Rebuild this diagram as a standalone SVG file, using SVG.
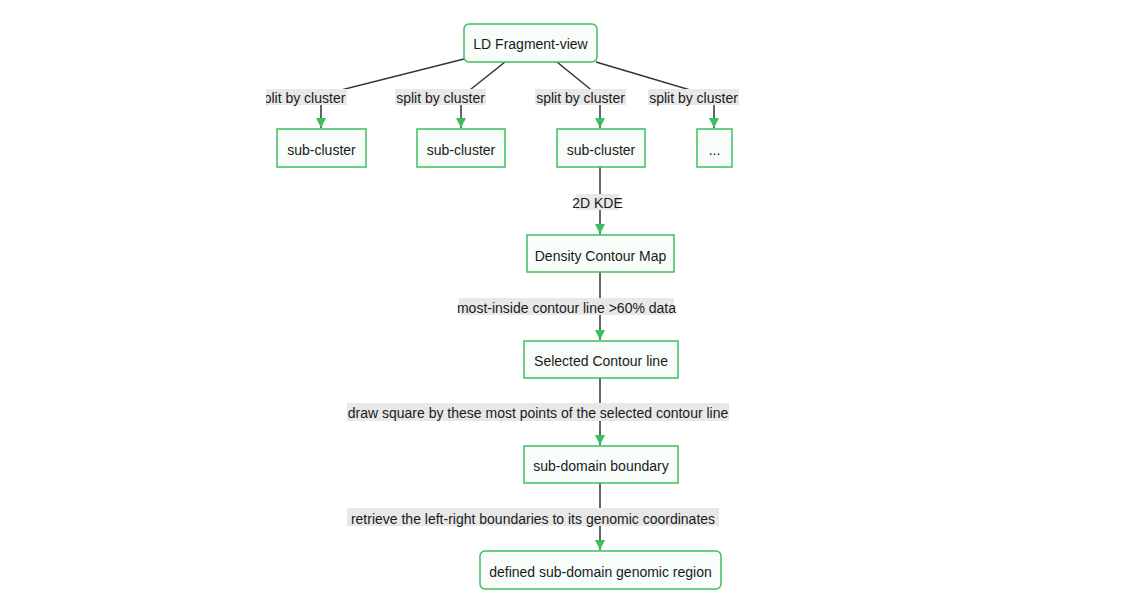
<svg xmlns="http://www.w3.org/2000/svg" width="1125" height="608" viewBox="0 0 1125 608">
<style>
.node rect{fill:#f8fdf9;stroke:#3cbf5e;stroke-width:1.5}
text{font-family:"Liberation Sans",Arial,sans-serif;font-size:14px;fill:#1a1a1a;text-anchor:middle;dominant-baseline:central}
.edge{fill:none;stroke:#333;stroke-width:1.5}
.lbl rect{fill:#e8e8e8;stroke:none}
</style>
<defs>
<marker id="arr" viewBox="0 0 10 10" refX="10" refY="5" markerWidth="10" markerHeight="10" markerUnits="userSpaceOnUse" orient="auto">
<path d="M0,0 L10,5 L0,10 z" fill="#3cbf5e"/>
</marker>
<clipPath id="clip1"><rect x="266" y="85" width="90" height="24"/></clipPath>
</defs>
<rect width="1125" height="608" fill="#fff"/>
<g id="edges">
<polyline class="edge" points="464,59 321,95 321,128" marker-end="url(#arr)"/>
<polyline class="edge" points="505,62 461,97 461,128" marker-end="url(#arr)"/>
<polyline class="edge" points="557,62 600,97 600,128" marker-end="url(#arr)"/>
<polyline class="edge" points="596,62 714,97 714,128" marker-end="url(#arr)"/>
<line class="edge" x1="600" y1="167" x2="600" y2="234" marker-end="url(#arr)"/>
<line class="edge" x1="600" y1="272" x2="600" y2="340" marker-end="url(#arr)"/>
<line class="edge" x1="600" y1="378" x2="600" y2="445" marker-end="url(#arr)"/>
<line class="edge" x1="600" y1="483" x2="600" y2="550" marker-end="url(#arr)"/>
</g>
<g id="labels">
<g class="lbl"><rect x="266" y="89" width="81" height="16"/><text x="301" y="98" clip-path="url(#clip1)">split by cluster</text></g>
<g class="lbl"><rect x="395" y="89" width="91" height="16"/><text x="440.5" y="98">split by cluster</text></g>
<g class="lbl"><rect x="535" y="89" width="91" height="16"/><text x="580.5" y="98">split by cluster</text></g>
<g class="lbl"><rect x="648" y="89" width="91" height="16"/><text x="693.5" y="98">split by cluster</text></g>
<g class="lbl"><rect x="576" y="194" width="43" height="16"/><text x="597.5" y="203">2D KDE</text></g>
<g class="lbl"><rect x="459" y="298" width="215" height="17"/><text x="566.5" y="308">most-inside contour line &gt;60% data</text></g>
<g class="lbl"><rect x="347" y="403" width="382" height="18"/><text x="538" y="413">draw square by these most points of the selected contour line</text></g>
<g class="lbl"><rect x="347" y="508" width="372" height="18"/><text x="533" y="519">retrieve the left-right boundaries to its genomic coordinates</text></g>
</g>
<g id="ld" class="node"><rect x="464" y="24" width="133" height="38" rx="5"/><text x="530.5" y="44">LD Fragment-view</text></g>
<g id="sc1" class="node"><rect x="277" y="129" width="89" height="38"/><text x="321.5" y="150">sub-cluster</text></g>
<g id="sc2" class="node"><rect x="417" y="129" width="88" height="38"/><text x="461" y="150">sub-cluster</text></g>
<g id="sc3" class="node"><rect x="557" y="129" width="88" height="38"/><text x="601" y="150">sub-cluster</text></g>
<g id="sc4" class="node"><rect x="697" y="129" width="35" height="38"/><text x="714.5" y="150">...</text></g>
<g id="dcm" class="node"><rect x="527" y="235" width="147" height="37"/><text x="600.5" y="256">Density Contour Map</text></g>
<g id="scl" class="node"><rect x="524" y="341" width="154" height="37"/><text x="601" y="361">Selected Contour line</text></g>
<g id="sdb" class="node"><rect x="524" y="446" width="154" height="37"/><text x="601" y="466">sub-domain boundary</text></g>
<g id="dsr" class="node"><rect x="480" y="551" width="241" height="38" rx="5"/><text x="600.5" y="572">defined sub-domain genomic region</text></g>
</svg>
